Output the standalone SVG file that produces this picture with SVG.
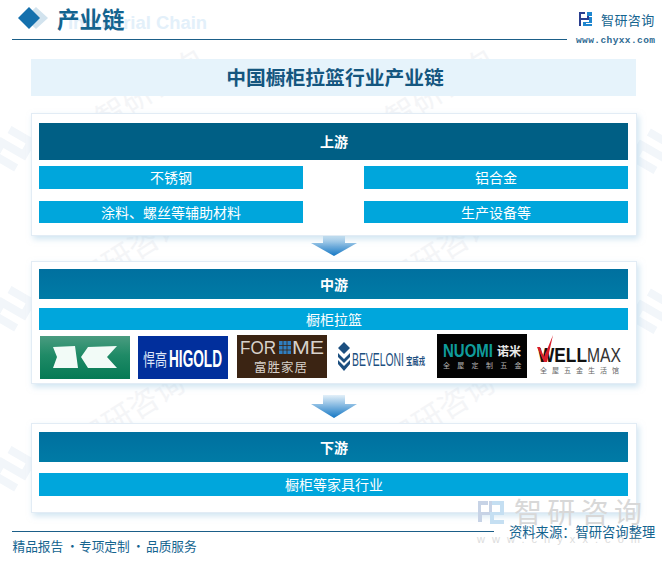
<svg xmlns="http://www.w3.org/2000/svg" width="662" height="564" viewBox="0 0 662 564">
<style>
text{font-family:"Noto Sans CJK SC","Liberation Sans",sans-serif}
.en{font-family:"Liberation Sans",Arial,sans-serif}
.mono{font-family:"Liberation Mono",monospace}
.serif{font-weight:700}
.panel{fill:#fff;stroke:#e2ecf5;stroke-width:1;filter:url(#sh)}
.bar{fill:#00a6dc}
.c{text-anchor:middle}
.w{fill:#fff;font-size:14px}
.wm{fill:#f4f5f7;font-size:30px}
.mark{fill:none;stroke:#f2f6fa;stroke-width:8}
.arrow{fill:url(#ag)}
</style>
<defs>
<filter id="sh" x="-5%" y="-10%" width="110%" height="125%"><feDropShadow dx="2" dy="3" stdDeviation="3" flood-color="#a9cfe6" flood-opacity=".55"/></filter>
<linearGradient id="ag" x1="0" y1="0" x2="0" y2="1"><stop offset="0" stop-color="#e3f0f9"/><stop offset="1" stop-color="#1577c4"/></linearGradient>
<linearGradient id="g1" x1="0" y1="0" x2="0" y2="1"><stop offset="0" stop-color="#4a9c80"/><stop offset=".45" stop-color="#1f8a66"/><stop offset="1" stop-color="#067a55"/></linearGradient>
<linearGradient id="hd" x1="0" y1="0" x2="0" y2="1"><stop offset="0" stop-color="#00709f"/><stop offset="1" stop-color="#007ba6"/></linearGradient>
</defs>
<rect width="662" height="564" fill="#fff"/>
<g id="watermarks">
<g transform="rotate(-32 150 90)"><text class="wm" x="90" y="100">智研咨询</text></g>
<g transform="rotate(-32 440 90)"><text class="wm" x="380" y="100">智研咨询</text></g>
<g transform="rotate(-32 130 250)"><text class="wm" x="70" y="262">智研咨询</text></g>
<g transform="rotate(-32 440 250)"><text class="wm" x="380" y="262">智研咨询</text></g>
<g transform="rotate(-32 130 410)"><text class="wm" x="70" y="422">智研咨询</text></g>
<g transform="rotate(-32 440 410)"><text class="wm" x="380" y="422">智研咨询</text></g>
<path class="mark" transform="rotate(30 15 150)" d="M0 135h25v15h-25v15h25"/>
<path class="mark" transform="rotate(30 15 310)" d="M0 295h25v15h-25v15h25"/>
<path class="mark" transform="rotate(30 15 470)" d="M0 455h25v15h-25v15h25"/>
<path class="mark" transform="rotate(30 650 150)" d="M640 135h25v15h-25v15h25"/>
<path class="mark" transform="rotate(30 650 310)" d="M640 295h25v15h-25v15h25"/>
</g>
<g id="header">
<path d="M36 7l12 11-12 11-12-11z" fill="#d2e3ee"/>
<path d="M29 7l11 11-11 11-11-11z" fill="#1470ad"/>
<text class="en" x="68" y="29" font-size="18" font-weight="700" fill="#e3f0fa" textLength="139" lengthAdjust="spacingAndGlyphs">Industrial Chain</text>
<text class="serif" x="57" y="28" font-size="22.500" fill="#14648f">产业链</text>
<path d="M12 39.500H567" stroke="#1b5e88" stroke-width="1"/>
<g id="brand">
<path d="M579 12h6v2h-4v4h6v-6h2v8h-8v6h-2z" fill="#2b3f8f"/>
<path d="M587 12h5v5h-3v5h-6v4h9v-2h-6v-1h6v-7h-5z" fill="#1f86cf"/>
<text x="601" y="25" font-size="13" fill="#14648f" letter-spacing=".4">智研咨询</text>
<text class="mono" x="576" y="43" font-size="9.500" font-weight="700" fill="#2e6a92" textLength="79">www.chyxx.com</text>
</g>
</g>
<g id="title">
<rect x="31" y="59" width="605" height="37" fill="#e6f3fb"/>
<text class="serif c" x="335" y="85" font-size="19.800" fill="#14567f">中国橱柜拉篮行业产业链</text>
</g>
<g id="connectors">
<path class="arrow" d="M323 234h22v9h12l-23 13-23-13h12z"/>
<path class="arrow" d="M323 395h22v9h12l-23 14-23-14h12z"/>
</g>
<g id="upstream">
<rect class="panel" x="31.500" y="113.500" width="605" height="122"/>
<rect x="39" y="123" width="589" height="37" fill="#005f85"/>
<text class="serif c w" x="334" y="147">上游</text>
<rect class="bar" x="39" y="166" width="264" height="23"/>
<text class="c w" x="171" y="183">不锈钢</text>
<rect class="bar" x="364" y="166" width="264" height="23"/>
<text class="c w" x="496" y="183">铝合金</text>
<rect class="bar" x="39" y="201" width="264" height="22"/>
<text class="c w" x="171" y="218">涂料、螺丝等辅助材料</text>
<rect class="bar" x="364" y="201" width="264" height="22"/>
<text class="c w" x="496" y="218">生产设备等</text>
</g>
<g id="midstream">
<rect class="panel" x="31.500" y="261.500" width="605" height="122"/>
<rect x="39" y="269" width="589" height="30" fill="url(#hd)"/>
<text class="serif c w" x="334" y="290">中游</text>
<rect class="bar" x="39" y="308" width="589" height="22"/>
<text class="c w" x="334" y="325">橱柜拉篮</text>
</g>
<g id="logos">
<g id="logo-green">
<rect x="40" y="336" width="90" height="43" fill="url(#g1)"/>
<path d="M53 347l22-1 3 22H53l4-11z" fill="#f2fbf7"/>
<path d="M117 346l-29 1-7 10 7 11h29l-10-11z" fill="#f2fbf7"/>
</g>
<g id="logo-higold">
<rect x="138" y="336" width="90" height="43" fill="#012f9c"/>
<text x="143" y="366" font-size="17" fill="#dfe7f8" textLength="24" lengthAdjust="spacingAndGlyphs">悍高</text>
<text class="en" x="169" y="367" font-size="24" font-weight="700" fill="#fff" textLength="53" lengthAdjust="spacingAndGlyphs">HIGOLD</text>
</g>
<g id="logo-forme">
<rect x="237" y="335" width="90" height="43" fill="#3b2413"/>
<text class="en" x="240" y="354" font-size="18" fill="#d8d2cb" textLength="36" lengthAdjust="spacingAndGlyphs">FOR</text>
<rect x="279" y="341" width="12" height="13" fill="#2f7ec0"/>
<path d="M283 341v13M287 341v13M279 345.500h12M279 350h12" stroke="#3b2413" stroke-width=".8"/>
<text class="en" x="292" y="354" font-size="18" fill="#d8d2cb" textLength="32" lengthAdjust="spacingAndGlyphs">ME</text>
<text x="254" y="372" font-size="12.500" fill="#d8d2cb" letter-spacing="1">富胜家居</text>
</g>
<g id="logo-beveloni">
<path d="M344 342l6 6-6 6-6-6z M338 353l6 6 6-6v4l-6 6-6-6z M338 360l6 6 6-6v4l-6 7-6-7z" fill="#1c4f80"/>
<text class="en" x="352" y="366" font-size="19" fill="#1c4f80" textLength="52" lengthAdjust="spacingAndGlyphs">BEVELONI</text>
<text x="406" y="365" font-size="10" font-weight="700" fill="#1c4f80" textLength="19" lengthAdjust="spacingAndGlyphs">宝威戎</text>
</g>
<g id="logo-nuomi">
<rect x="437" y="334" width="90" height="44" fill="#030303"/>
<text class="en" x="443" y="357" font-size="18" font-weight="700" fill="#0f9c9c" textLength="50" lengthAdjust="spacingAndGlyphs">NUOMI</text>
<text x="497" y="356" font-size="12" font-weight="700" fill="#e8e8e8">诺米</text>
<text x="443" y="368" font-size="7" fill="#b5b5b5" letter-spacing="7.300">全屋定制五金</text>
</g>
<g id="logo-wellmax">
<text class="en" x="538" y="362" font-size="21" font-weight="700" fill="#111" textLength="49" lengthAdjust="spacingAndGlyphs">WELL</text>
<text class="en" x="587" y="362" font-size="21" fill="#333" textLength="34" lengthAdjust="spacingAndGlyphs">MAX</text>
<path d="M537 347h3l4 10 9-22-6 27h-3z" fill="#d81c2a"/>
<text x="540" y="373" font-size="7" fill="#666" letter-spacing="5">全屋五金生活馆</text>
</g>
</g>
<g id="downstream">
<rect class="panel" x="31.500" y="423.500" width="605" height="89"/>
<rect x="39" y="432" width="589" height="30" fill="url(#hd)"/>
<text class="serif c w" x="334" y="453">下游</text>
<rect class="bar" x="39" y="473" width="589" height="23"/>
<text class="c w" x="334" y="490">橱柜等家具行业</text>
</g>
<g id="footer">
<path d="M478 501h10v4h-7v7h8v-11h3v14h-10v7h-4z" fill="#c7d3e6"/>
<path d="M492 501h12v14h-10v5h10v4h-14v-12h10v-7h-8z" fill="#c5dff2"/>
<text x="514" y="523" font-size="28" fill="#d8d8d8" textLength="128">智研咨询</text>
<text class="en" x="477" y="543" font-size="11" fill="#dcdcdc" textLength="163">www.chyxx.com</text>
<path d="M12 531.500H494" stroke="#1b5e88" stroke-width="1"/>
<text x="509" y="537" font-size="13.300" fill="#14648f">资料来源：智研咨询整理</text>
<text x="12" y="551" font-size="12.700" fill="#14648f"><tspan x="12.500">精品报告</tspan><tspan x="66">·</tspan><tspan x="79">专项定制</tspan><tspan x="132">·</tspan><tspan x="146">品质服务</tspan></text>
</g>
</svg>
